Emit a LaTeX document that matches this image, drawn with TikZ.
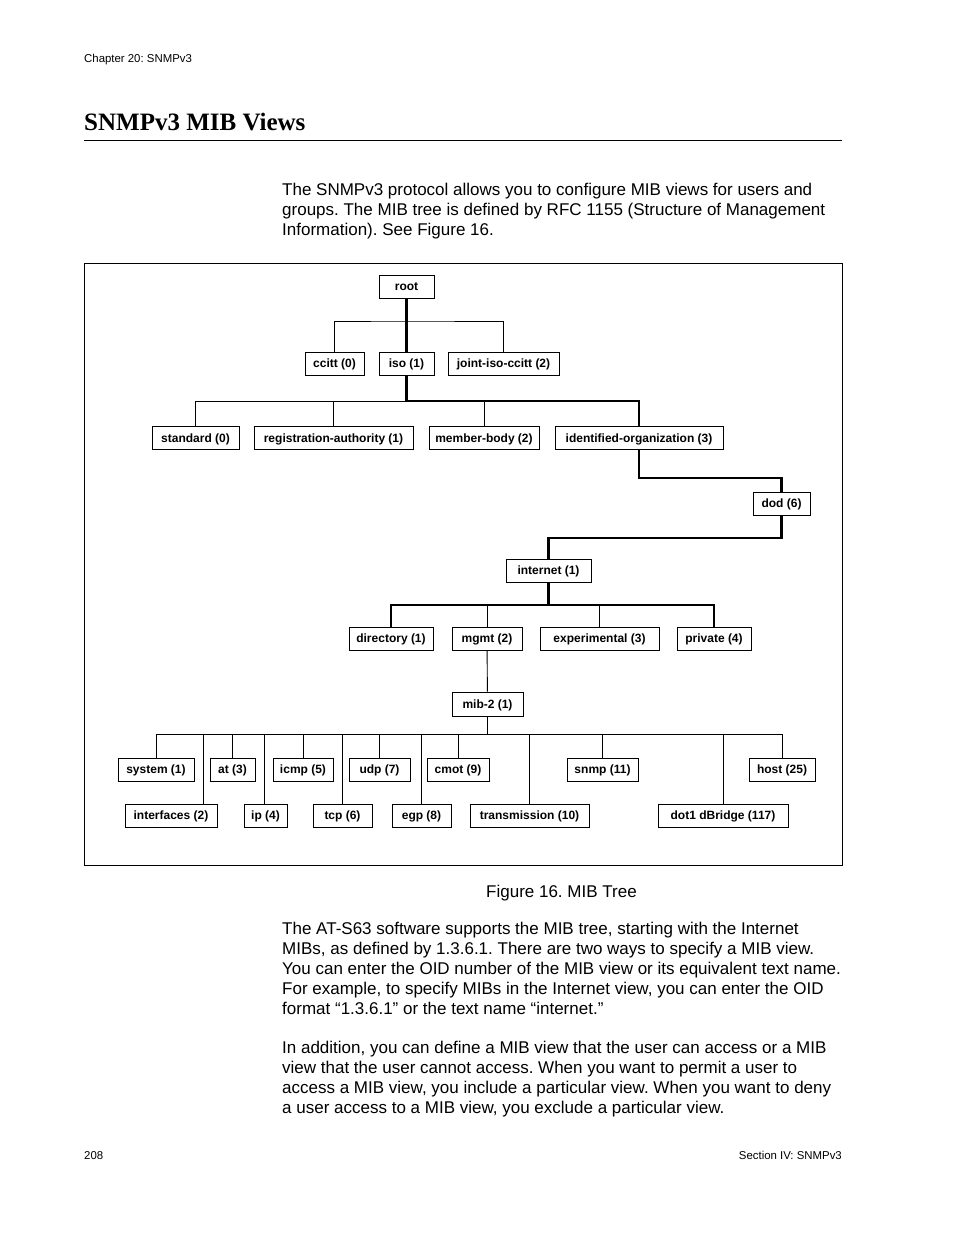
\documentclass[tikz,border=0pt]{standalone}
\usepackage{fontspec}
\setmainfont{Liberation Sans}
\newfontfamily\titlefont{Liberation Serif}
\usepackage{tikz}
\usetikzlibrary{positioning}
\frenchspacing
\tikzstyle{mibbox} = [draw,line width=0.9pt,inner xsep=3pt,minimum height=23pt,
	text height=10.5pt,text depth=2pt,font=\fontsize{12}{14}\selectfont\bfseries]
\tikzstyle{thinline} = [line width=0.9pt]
\tikzstyle{thickline} = [line width=2.6pt]
\tikzstyle{body} = [anchor=base west,inner sep=0pt,font=\fontsize{17}{20}\selectfont]
\tikzstyle{small} = [inner sep=0pt,font=\fontsize{11.4}{13}\selectfont]

\begin{document}
\begin{tikzpicture}[x=1pt,y=-1pt]
	\fill[white] (0,0) rectangle (954,1235);
	\useasboundingbox (0,0) rectangle (954,1235);
	% page head
	\node[small,anchor=base west] (hdr) at (84,62) {Chapter 20: SNMPv3};
	\node[anchor=base west,inner sep=0pt,font=\fontsize{25}{28}\titlefont\bfseries] (ttl) at (84,130) {SNMPv3 MIB Views};
	\draw[line width=1pt] (84,140) -- (842,140);
	\node[body] (p1a) at (282,195) {The SNMPv3 protocol allows you to configure MIB views for users and};
	\node[body] (p1b) at (282,215) {groups. The MIB tree is defined by RFC 1155 (Structure of Management};
	\node[body] (p1c) at (282,235) {Information). See Figure 16.};
	% figure frame
	\draw[line width=1pt] (84,263) rectangle (842,865);
	% tree levels
	\node[mibbox,minimum width=55pt] (root) at (406.5,286.5) {root};
	\node[mibbox,minimum width=59pt] (ccitt) at (334.5,363.5) {ccitt (0)};
	\node[mibbox,minimum width=55pt] (iso) at (406.5,363.5) {iso (1)};
	\node[mibbox,minimum width=111pt] (joint) at (503.5,363.5) {joint-iso-ccitt (2)};
	\node[mibbox,minimum width=87pt] (std) at (195.5,438) {standard (0)};
	\node[mibbox,minimum width=159pt] (reg) at (333.5,438) {registration-authority (1)};
	\node[mibbox,minimum width=110pt] (mem) at (484,438) {member-body (2)};
	\node[mibbox,minimum width=168pt] (idorg) at (639,438) {identified-organization (3)};
	\node[mibbox,minimum width=57pt] (dod) at (781.5,503.5) {dod (6)};
	\node[mibbox,minimum width=85pt] (inet) at (548.5,570.5) {internet (1)};
	\node[mibbox,minimum width=84pt] (dir) at (391,638.5) {directory (1)};
	\node[mibbox,minimum width=70pt] (mgmt) at (487,638.5) {mgmt (2)};
	\node[mibbox,minimum width=119pt] (exper) at (599.5,638.5) {experimental (3)};
	\node[mibbox,minimum width=74pt] (priv) at (714,638.5) {private (4)};
	\node[mibbox,minimum width=71pt,minimum height=24pt] (mib2) at (487.5,704) {mib-2 (1)};
	% mib-2 groups, upper row
	\node[mibbox,minimum width=76pt] (sys) at (156,769.5) {system (1)};
	\node[mibbox,minimum width=45pt] (at) at (232.5,769.5) {at (3)};
	\node[mibbox,minimum width=60pt] (icmp) at (303,769.5) {icmp (5)};
	\node[mibbox,minimum width=61pt] (udp) at (379.5,769.5) {udp (7)};
	\node[mibbox,minimum width=62pt] (cmot) at (458,769.5) {cmot (9)};
	\node[mibbox,minimum width=71pt] (snmp) at (602.5,769.5) {snmp (11)};
	\node[mibbox,minimum width=66pt] (host) at (782,769.5) {host (25)};
	% mib-2 groups, lower row
	\node[mibbox,minimum width=92pt] (ifc) at (171,815.5) {interfaces (2)};
	\node[mibbox,minimum width=43pt] (ip) at (265.5,815.5) {ip (4)};
	\node[mibbox,minimum width=59pt] (tcp) at (342.5,815.5) {tcp (6)};
	\node[mibbox,minimum width=59pt] (egp) at (421.5,815.5) {egp (8)};
	\node[mibbox,minimum width=119pt] (trans) at (529.5,815.5) {transmission (10)};
	\node[mibbox,minimum width=130pt] (dot1) at (723,815.5) {dot1 dBridge (117)};
	% bus points
	\coordinate (b1) at (406.5,321);
	\coordinate (b2) at (406.5,401);
	\coordinate (k1) at (700,478);
	\coordinate (k2) at (660,538);
	\coordinate (b3) at (548.5,605);
	\coordinate (b4) at (487.5,734);
	% connectors
	\draw[thinline] (ccitt.north) |- (b1) -| (joint.north);
	\draw[thickline] (root) -- (iso);
	\draw[thinline] (std.north) |- (b2);
	\draw[thinline] (reg.north) -- (reg.north |- b2);
	\draw[thinline] (mem.north) -- (mem.north |- b2);
	\draw[thickline] (iso.south) -- (b2) -| (idorg.north);
	\draw[thickline] (idorg.south) |- (k1) -| (dod.north);
	\draw[thickline] (dod.south) |- (k2) -| (inet.north);
	\draw[thickline] (inet.south) -- (b3);
	\draw[thickline] (dir.north) |- (b3) -| (priv.north);
	\draw[thinline] (mgmt.north) -- (mgmt.north |- b3);
	\draw[thinline] (exper.north) -- (exper.north |- b3);
	\draw[thinline] (mgmt) -- (mib2);
	\draw[thinline] (mib2.south) -- (b4);
	\draw[thinline] (sys.north) |- (b4) -| (host.north);
	\foreach \n in {at,icmp,udp,cmot,snmp}
		\draw[thinline] (\n.north) -- (\n.north |- b4);
	\draw[thinline] ([xshift=32pt]ifc.north) -- ([xshift=32pt]ifc.north |- b4);
	\draw[thinline] ([xshift=-1.5pt]ip.north) -- ([xshift=-1.5pt]ip.north |- b4);
	\foreach \n in {tcp,egp,trans,dot1}
		\draw[thinline] (\n.north) -- (\n.north |- b4);
	% caption and text below
	\node[anchor=base west,inner sep=0pt,font=\fontsize{17}{20}\selectfont] (cap) at (486,897) {Figure 16. MIB Tree};
	\node[body] (p2a) at (282,934) {The AT-S63 software supports the MIB tree, starting with the Internet};
	\node[body] (p2b) at (282,954) {MIBs, as defined by 1.3.6.1. There are two ways to specify a MIB view.};
	\node[body] (p2c) at (282,974) {You can enter the OID number of the MIB view or its equivalent text name.};
	\node[body] (p2d) at (282,994) {For example, to specify MIBs in the Internet view, you can enter the OID};
	\node[body] (p2e) at (282,1014) {format “1.3.6.1” or the text name “internet.”};
	\node[body] (p3a) at (282,1053) {In addition, you can define a MIB view that the user can access or a MIB};
	\node[body] (p3b) at (282,1073) {view that the user cannot access. When you want to permit a user to};
	\node[body] (p3c) at (282,1093) {access a MIB view, you include a particular view. When you want to deny};
	\node[body] (p3d) at (282,1113) {a user access to a MIB view, you exclude a particular view.};
	% page foot
	\node[small,anchor=base west] (pg) at (84,1159) {208};
	\node[small,anchor=base east] (sec) at (842,1159) {Section IV: SNMPv3};
\end{tikzpicture}
\end{document}
